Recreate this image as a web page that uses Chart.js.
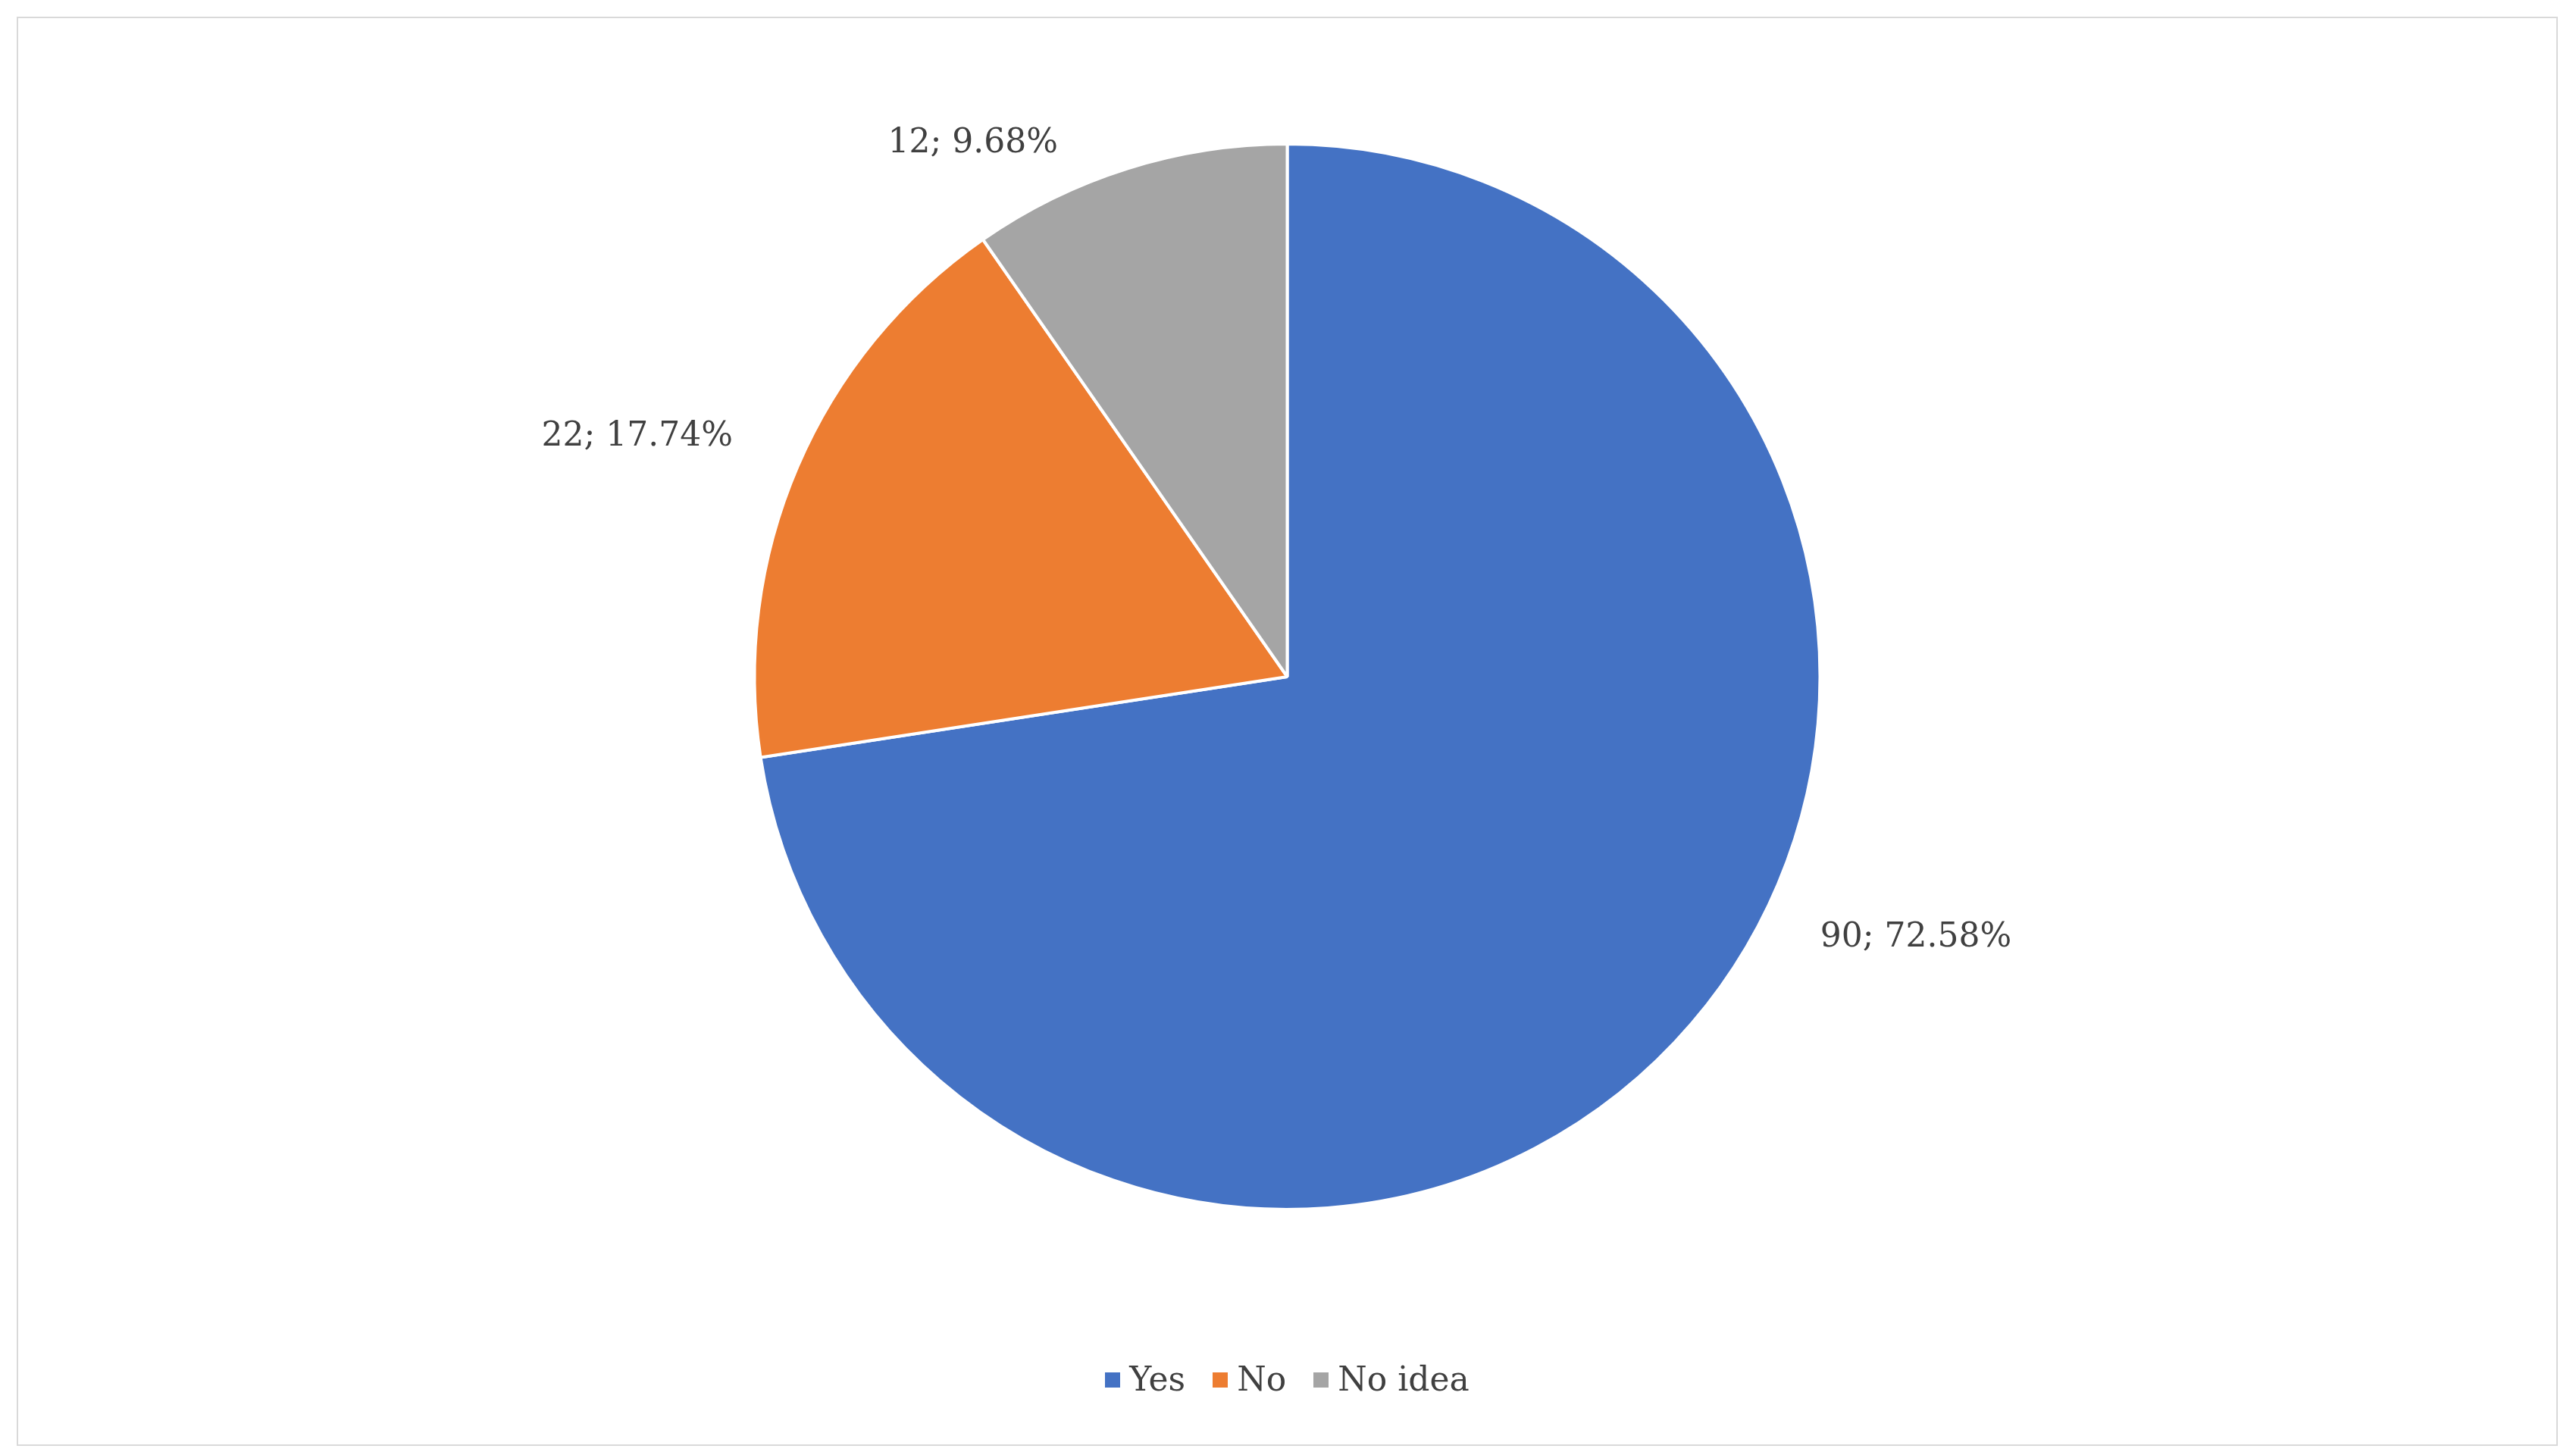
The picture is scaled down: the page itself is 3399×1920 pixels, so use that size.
<!DOCTYPE html>
<html>
<head>
<meta charset="utf-8">
<script src="https://cdn.jsdelivr.net/npm/chart.js@4.4.1/dist/chart.umd.min.js"></script>
<style>
  html, body { margin: 0; padding: 0; background: #fff; }
  body { width: 3399px; height: 1920px; position: relative; overflow: hidden; }
  .frame { position: absolute; left: 22px; top: 22px; width: 3349px; height: 1882px; border: 2px solid #d9d9d9; }
  canvas { position: absolute; left: 0; top: 0; }
  .legend { position: absolute; left: 0; right: 0; top: 1770px; text-align: center;
    font-family: "DejaVu Serif", "Liberation Serif", serif; font-size: 44px; color: #404040; }
  .legend span.item { margin: 0 18px; }
  .legend i { display: inline-block; width: 20px; height: 20px; margin-right: 12px; vertical-align: 4px; }
</style>
</head>
<body>
<div class="frame">
  <canvas id="pie" width="3349" height="1882"></canvas>
  <div class="legend" id="legend"></div>
</div>
<script>
const categories = ["Yes", "No", "No idea"];
const counts = [90, 22, 12];
const percents = ["72.58%", "17.74%", "9.68%"];
const colors = ["#4472C4", "#ED7D31", "#A5A5A5"];
// label anchors in units of pie radius, relative to the pie centre
const labelAnchors = [[1.18, 0.49], [-1.22, -0.45], [-0.59, -1.0]];

const pieLabels = {
  id: "pieLabels",
  afterDatasetsDraw(chart) {
    const ctx = chart.ctx;
    const arcs = chart.getDatasetMeta(0).data;
    ctx.save();
    ctx.font = '44px "DejaVu Serif", "Liberation Serif", serif';
    ctx.fillStyle = "#404040";
    ctx.textAlign = "center";
    ctx.textBaseline = "middle";
    arcs.forEach((arc, i) => {
      const r = arc.outerRadius;
      ctx.fillText(counts[i] + "; " + percents[i], arc.x + labelAnchors[i][0] * r, arc.y + labelAnchors[i][1] * r);
    });
    ctx.restore();
  }
};

new Chart(document.getElementById("pie"), {
  type: "pie",
  data: {
    labels: categories,
    datasets: [{ data: counts, backgroundColor: colors, borderColor: "#fff", borderWidth: 4 }]
  },
  options: {
    responsive: false,
    animation: false,
    layout: { padding: { top: 164, bottom: 308 } },
    plugins: { legend: { display: false }, tooltip: { enabled: false } }
  },
  plugins: [pieLabels]
});

document.getElementById("legend").innerHTML = categories
  .map((c, i) => `<span class="item"><i style="background:${colors[i]}"></i>${c}</span>`)
  .join("");
</script>
</body>
</html>
